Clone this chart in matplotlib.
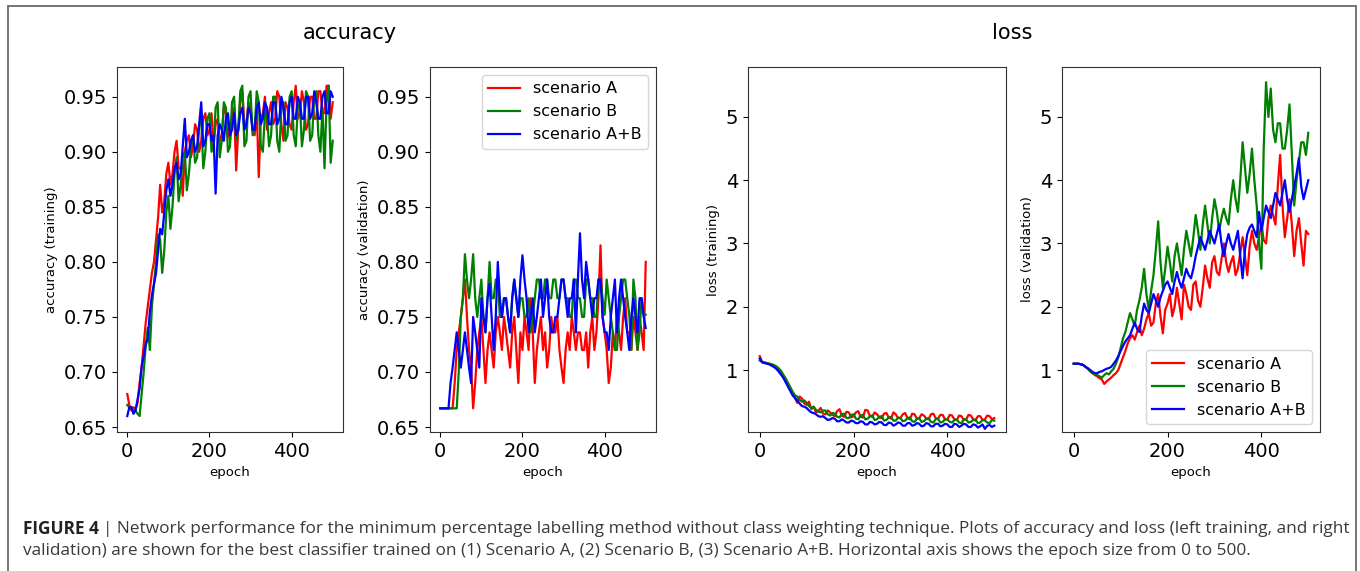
import numpy as np
import matplotlib
matplotlib.use("Agg")
import matplotlib.pyplot as plt
from matplotlib.patches import Rectangle

epochs = list(range(0, 501, 5))

acc_train_a = [0.680, 0.670, 0.665, 0.668, 0.666, 0.672, 0.690, 0.705, 0.725, 0.745,
               0.760, 0.775, 0.790, 0.800, 0.820, 0.840, 0.870, 0.845, 0.855, 0.880,
               0.890, 0.870, 0.880, 0.900, 0.910, 0.885, 0.885, 0.860, 0.900, 0.910,
               0.915, 0.895, 0.905, 0.925, 0.920, 0.900, 0.910, 0.930, 0.935, 0.915,
               0.920, 0.935, 0.905, 0.925, 0.930, 0.910, 0.915, 0.940, 0.935, 0.920,
               0.910, 0.935, 0.940, 0.883, 0.920, 0.945, 0.955, 0.925, 0.925, 0.945,
               0.940, 0.920, 0.915, 0.940, 0.877, 0.930, 0.935, 0.950, 0.920, 0.935,
               0.945, 0.925, 0.930, 0.955, 0.950, 0.925, 0.910, 0.945, 0.940, 0.925,
               0.920, 0.945, 0.960, 0.930, 0.935, 0.955, 0.945, 0.920, 0.925, 0.950,
               0.950, 0.930, 0.930, 0.955, 0.955, 0.935, 0.935, 0.960, 0.960, 0.930,
               0.945]
acc_train_b = [0.670, 0.668, 0.668, 0.664, 0.665, 0.662, 0.660, 0.680, 0.700, 0.725,
               0.740, 0.720, 0.760, 0.780, 0.800, 0.825, 0.820, 0.790, 0.810, 0.845,
               0.860, 0.830, 0.850, 0.880, 0.895, 0.855, 0.870, 0.895, 0.900, 0.865,
               0.880, 0.905, 0.915, 0.890, 0.895, 0.925, 0.930, 0.885, 0.900, 0.930,
               0.935, 0.900, 0.905, 0.940, 0.945, 0.895, 0.910, 0.945, 0.940, 0.900,
               0.905, 0.945, 0.950, 0.910, 0.920, 0.955, 0.960, 0.905, 0.910, 0.950,
               0.955, 0.915, 0.920, 0.955, 0.945, 0.905, 0.900, 0.935, 0.935, 0.905,
               0.915, 0.950, 0.950, 0.910, 0.900, 0.940, 0.945, 0.910, 0.915, 0.950,
               0.955, 0.915, 0.905, 0.940, 0.945, 0.905, 0.920, 0.955, 0.950, 0.910,
               0.915, 0.950, 0.955, 0.915, 0.900, 0.940, 0.885, 0.945, 0.960, 0.890,
               0.910]
acc_train_ab = [0.660, 0.668, 0.668, 0.662, 0.665, 0.675, 0.685, 0.705, 0.715, 0.725,
                0.730, 0.755, 0.770, 0.780, 0.790, 0.810, 0.830, 0.825, 0.845, 0.865,
                0.875, 0.860, 0.870, 0.885, 0.890, 0.875, 0.880, 0.905, 0.930, 0.895,
                0.900, 0.910, 0.915, 0.900, 0.905, 0.925, 0.945, 0.905, 0.910, 0.925,
                0.925, 0.910, 0.915, 0.862, 0.915, 0.925, 0.920, 0.910, 0.930, 0.935,
                0.915, 0.920, 0.935, 0.915, 0.920, 0.935, 0.940, 0.920, 0.925, 0.940,
                0.935, 0.920, 0.920, 0.940, 0.945, 0.925, 0.930, 0.945, 0.940, 0.925,
                0.925, 0.945, 0.945, 0.925, 0.930, 0.950, 0.940, 0.925, 0.925, 0.945,
                0.950, 0.930, 0.930, 0.950, 0.945, 0.930, 0.930, 0.950, 0.950, 0.930,
                0.935, 0.955, 0.945, 0.930, 0.930, 0.950, 0.955, 0.935, 0.935, 0.955,
                0.950]

acc_val_a = [0.667, 0.667, 0.667, 0.667, 0.667, 0.667, 0.667, 0.690, 0.720, 0.736,
             0.750, 0.767, 0.784, 0.750, 0.720, 0.704, 0.667, 0.690, 0.720, 0.736,
             0.750, 0.720, 0.690, 0.720, 0.736, 0.720, 0.704, 0.736, 0.750, 0.736,
             0.720, 0.750, 0.736, 0.720, 0.704, 0.736, 0.750, 0.720, 0.690, 0.736,
             0.720, 0.750, 0.736, 0.720, 0.767, 0.736, 0.690, 0.720, 0.736, 0.750,
             0.720, 0.736, 0.704, 0.720, 0.750, 0.736, 0.736, 0.750, 0.720, 0.704,
             0.690, 0.720, 0.736, 0.720, 0.750, 0.736, 0.720, 0.736, 0.736, 0.720,
             0.720, 0.736, 0.704, 0.736, 0.750, 0.720, 0.736, 0.767, 0.815, 0.750,
             0.736, 0.720, 0.690, 0.704, 0.736, 0.720, 0.750, 0.736, 0.720, 0.750,
             0.767, 0.736, 0.736, 0.720, 0.750, 0.736, 0.720, 0.750, 0.736, 0.720,
             0.800]
acc_val_b = [0.667, 0.667, 0.667, 0.667, 0.667, 0.667, 0.667, 0.667, 0.667, 0.700,
             0.750, 0.767, 0.807, 0.784, 0.767, 0.784, 0.807, 0.767, 0.750, 0.767,
             0.784, 0.750, 0.736, 0.767, 0.800, 0.767, 0.767, 0.784, 0.784, 0.750,
             0.750, 0.767, 0.767, 0.750, 0.736, 0.767, 0.784, 0.767, 0.750, 0.767,
             0.767, 0.750, 0.750, 0.767, 0.736, 0.750, 0.767, 0.784, 0.784, 0.767,
             0.767, 0.784, 0.784, 0.767, 0.767, 0.784, 0.784, 0.767, 0.767, 0.784,
             0.784, 0.767, 0.767, 0.750, 0.750, 0.784, 0.784, 0.767, 0.767, 0.750,
             0.750, 0.784, 0.784, 0.767, 0.767, 0.750, 0.750, 0.784, 0.784, 0.767,
             0.752, 0.784, 0.767, 0.750, 0.736, 0.720, 0.720, 0.750, 0.767, 0.784,
             0.784, 0.767, 0.752, 0.720, 0.784, 0.767, 0.720, 0.736, 0.767, 0.752,
             0.752]
acc_val_ab = [0.667, 0.667, 0.667, 0.667, 0.667, 0.690, 0.704, 0.720, 0.736, 0.720,
              0.704, 0.720, 0.736, 0.720, 0.704, 0.690, 0.750, 0.736, 0.720, 0.704,
              0.767, 0.750, 0.736, 0.767, 0.780, 0.750, 0.720, 0.750, 0.800, 0.767,
              0.750, 0.767, 0.767, 0.750, 0.736, 0.767, 0.784, 0.767, 0.750, 0.784,
              0.806, 0.784, 0.767, 0.736, 0.750, 0.767, 0.736, 0.750, 0.767, 0.784,
              0.750, 0.767, 0.784, 0.750, 0.736, 0.736, 0.750, 0.750, 0.767, 0.784,
              0.784, 0.767, 0.750, 0.767, 0.767, 0.784, 0.736, 0.784, 0.826, 0.784,
              0.767, 0.800, 0.784, 0.767, 0.750, 0.767, 0.767, 0.784, 0.784, 0.750,
              0.736, 0.736, 0.720, 0.750, 0.767, 0.784, 0.736, 0.767, 0.784, 0.767,
              0.750, 0.736, 0.720, 0.750, 0.767, 0.750, 0.736, 0.767, 0.767, 0.750,
              0.740]

loss_train_a = [1.22, 1.13, 1.12, 1.11, 1.10, 1.09, 1.07, 1.04, 1.00, 0.95,
                0.90, 0.84, 0.78, 0.70, 0.62, 0.56, 0.48, 0.58, 0.55, 0.47,
                0.45, 0.50, 0.38, 0.42, 0.33, 0.36, 0.40, 0.31, 0.30, 0.36,
                0.33, 0.29, 0.27, 0.35, 0.38, 0.28, 0.26, 0.34, 0.33, 0.25,
                0.27, 0.33, 0.35, 0.26, 0.25, 0.37, 0.36, 0.27, 0.26, 0.33,
                0.30, 0.25, 0.24, 0.31, 0.32, 0.25, 0.23, 0.33, 0.30, 0.24,
                0.24, 0.30, 0.32, 0.24, 0.22, 0.31, 0.30, 0.23, 0.24, 0.30,
                0.28, 0.23, 0.22, 0.30, 0.31, 0.24, 0.23, 0.29, 0.29, 0.22,
                0.22, 0.29, 0.28, 0.22, 0.21, 0.28, 0.27, 0.21, 0.22, 0.29,
                0.28, 0.22, 0.20, 0.27, 0.27, 0.21, 0.22, 0.28, 0.27, 0.22,
                0.24]
loss_train_b = [1.15, 1.13, 1.12, 1.11, 1.10, 1.09, 1.08, 1.06, 1.03, 0.99,
                0.93, 0.87, 0.80, 0.73, 0.66, 0.60, 0.58, 0.53, 0.50, 0.52,
                0.48, 0.43, 0.40, 0.42, 0.37, 0.34, 0.33, 0.36, 0.36, 0.30,
                0.28, 0.32, 0.31, 0.26, 0.25, 0.30, 0.31, 0.24, 0.24, 0.29,
                0.30, 0.23, 0.22, 0.28, 0.29, 0.22, 0.23, 0.27, 0.28, 0.21,
                0.22, 0.26, 0.27, 0.20, 0.21, 0.25, 0.26, 0.20, 0.20, 0.25,
                0.24, 0.19, 0.20, 0.24, 0.25, 0.19, 0.18, 0.23, 0.24, 0.18,
                0.19, 0.23, 0.24, 0.18, 0.17, 0.22, 0.23, 0.17, 0.18, 0.22,
                0.22, 0.18, 0.17, 0.21, 0.22, 0.17, 0.16, 0.22, 0.22, 0.17,
                0.18, 0.21, 0.22, 0.16, 0.17, 0.21, 0.20, 0.17, 0.16, 0.21,
                0.20]
loss_train_ab = [1.18, 1.12, 1.11, 1.10, 1.09, 1.07, 1.05, 1.02, 0.98, 0.93,
                 0.88, 0.81, 0.74, 0.67, 0.60, 0.56, 0.52, 0.47, 0.43, 0.42,
                 0.40, 0.36, 0.33, 0.32, 0.30, 0.27, 0.26, 0.27, 0.24, 0.21,
                 0.22, 0.24, 0.23, 0.19, 0.19, 0.22, 0.20, 0.17, 0.17, 0.20,
                 0.19, 0.16, 0.16, 0.19, 0.18, 0.14, 0.14, 0.18, 0.17, 0.14,
                 0.15, 0.18, 0.17, 0.13, 0.13, 0.17, 0.16, 0.12, 0.14, 0.17,
                 0.16, 0.12, 0.12, 0.16, 0.16, 0.12, 0.13, 0.16, 0.15, 0.11,
                 0.12, 0.16, 0.15, 0.11, 0.11, 0.15, 0.15, 0.11, 0.12, 0.15,
                 0.14, 0.10, 0.10, 0.15, 0.14, 0.10, 0.12, 0.15, 0.14, 0.10,
                 0.10, 0.14, 0.13, 0.09, 0.11, 0.14, 0.07, 0.12, 0.13, 0.10,
                 0.12]

loss_val_a = [1.10, 1.10, 1.10, 1.09, 1.08, 1.05, 1.02, 0.98, 0.95, 0.92,
              0.90, 0.87, 0.85, 0.78, 0.82, 0.85, 0.88, 0.92, 0.95, 1.00,
              1.10, 1.20, 1.30, 1.42, 1.50, 1.55, 1.48, 1.60, 1.70, 1.55,
              1.65, 1.80, 1.90, 1.70, 1.75, 2.05, 2.20, 1.85, 1.58, 1.95,
              2.05, 2.20, 1.85, 2.00, 2.30, 2.05, 1.80, 2.35, 2.20, 2.00,
              1.95, 2.35, 2.40, 2.10, 2.00, 2.30, 2.65, 2.45, 2.30, 2.70,
              2.80, 2.55, 2.50, 2.75, 3.00, 2.70, 2.55, 2.70, 2.80, 2.50,
              2.60, 2.85, 3.10, 2.80, 2.50, 2.95, 3.20, 3.00, 2.90, 3.10,
              3.30, 3.05, 3.00, 3.40, 3.60, 3.45, 3.30, 3.90, 4.40, 3.60,
              3.10, 3.40, 3.70, 3.30, 2.80, 3.20, 3.40, 3.00, 2.65, 3.20,
              3.15]
loss_val_b = [1.10, 1.10, 1.10, 1.09, 1.08, 1.05, 1.02, 0.98, 0.95, 0.93,
              0.92, 0.90, 0.88, 0.92, 0.95, 0.93, 0.98, 1.02, 1.10, 1.20,
              1.35, 1.50, 1.60, 1.75, 1.90, 1.80, 1.70, 1.95, 2.10, 2.30,
              2.60, 2.20, 1.95, 2.25, 2.50, 2.90, 3.35, 2.70, 2.30, 2.60,
              2.95, 2.70, 2.40, 2.80, 3.00, 2.75, 2.50, 2.90, 3.20, 3.00,
              2.80, 3.10, 3.45, 3.20, 2.90, 3.30, 3.60, 3.30, 3.00, 3.40,
              3.70, 3.50, 3.20, 3.40, 3.55, 3.40, 3.30, 3.70, 4.00, 3.70,
              3.50, 4.00, 4.60, 4.20, 3.80, 4.10, 4.50, 4.00, 3.60, 3.00,
              2.60, 4.50, 5.55, 5.00, 5.45, 4.80, 4.60, 4.90, 4.90, 4.50,
              4.50, 4.80, 5.20, 4.40, 3.60, 4.00, 4.30, 4.60, 4.60, 4.40,
              4.75]
loss_val_ab = [1.10, 1.10, 1.10, 1.09, 1.08, 1.05, 1.03, 1.00, 0.97, 0.95,
               0.95, 0.97, 0.98, 1.00, 1.02, 1.03, 1.05, 1.10, 1.15, 1.22,
               1.30, 1.38, 1.45, 1.50, 1.55, 1.65, 1.75, 1.65, 1.60, 1.85,
               2.05, 1.95, 1.90, 2.05, 2.20, 2.10, 2.00, 2.15, 2.25, 2.35,
               2.40, 2.30, 2.20, 2.40, 2.55, 2.40, 2.30, 2.45, 2.60, 2.50,
               2.45, 2.60, 2.80, 2.95, 3.10, 3.00, 2.90, 3.05, 3.20, 3.10,
               3.00, 3.15, 3.30, 3.00, 2.80, 3.00, 3.15, 3.00, 2.90, 3.05,
               3.20, 2.80, 2.45, 2.90, 3.15, 3.25, 3.30, 3.20, 3.10, 3.50,
               3.20, 3.40, 3.60, 3.50, 3.40, 3.60, 3.80, 3.70, 3.60, 3.80,
               4.00, 3.70, 3.50, 3.70, 3.90, 4.10, 4.35, 3.90, 3.70, 3.85,
               4.00]

labels = ["scenario A", "scenario B", "scenario A+B"]
colors = ["red", "green", "blue"]

caption1 = ("| Network performance for the minimum percentage labelling method without class "
            "weighting technique. Plots of accuracy and loss (left training, and right")
caption2 = ("validation) are shown for the best classifier trained on (1) Scenario A, (2) Scenario B, "
            "(3) Scenario A+B. Horizontal axis shows the epoch size from 0 to 500.")

W, H = 1360, 571
fig = plt.figure(figsize=(W / 100, H / 100), dpi=100)

# outer frame of the figure panel
fig.patches.append(Rectangle((8 / W, -0.05), 1348 / W, 1.05 - 6 / H, transform=fig.transFigure,
                             fill=False, edgecolor="#6a6a6a", linewidth=1.3))

bottom, height = 1 - 432 / H, 365 / H
ax1 = fig.add_axes([117 / W, bottom, 226 / W, height])
ax2 = fig.add_axes([430 / W, bottom, 226 / W, height])
ax3 = fig.add_axes([748 / W, bottom, 258 / W, height])
ax4 = fig.add_axes([1062 / W, bottom, 258 / W, height])

panels = [
    (ax1, [acc_train_a, acc_train_b, acc_train_ab], "accuracy (training)"),
    (ax2, [acc_val_a, acc_val_b, acc_val_ab], "accuracy (validation)"),
    (ax3, [loss_train_a, loss_train_b, loss_train_ab], "loss (training)"),
    (ax4, [loss_val_a, loss_val_b, loss_val_ab], "loss (validation)"),
]

for ax, series, ylab in panels:
    for vals, c, lab in zip(series, colors, labels):
        ax.plot(epochs, vals, color=c, lw=1.6, label=lab)
    ax.set_xlabel("epoch", fontsize=9.5)
    ax.set_ylabel(ylab, fontsize=9.5)
    ax.set_xticks([0, 200, 400])
    ax.tick_params(labelsize=14)
    for s in ax.spines.values():
        s.set_color("#333333")

ax1.set_ylim(0.6455, 0.977)
ax2.set_ylim(0.6455, 0.977)
ax1.set_yticks([0.65, 0.70, 0.75, 0.80, 0.85, 0.90, 0.95])
ax2.set_yticks([0.65, 0.70, 0.75, 0.80, 0.85, 0.90, 0.95])
ax3.set_ylim(0.02, 5.79)
ax4.set_ylim(0.02, 5.79)
ax3.set_yticks([1, 2, 3, 4, 5])
ax4.set_yticks([1, 2, 3, 4, 5])

ax2.legend(loc="upper right", fontsize=11.5)
ax4.legend(loc="lower right", fontsize=11.5)

fig.text(350 / W, 1 - 33 / H, "accuracy", ha="center", va="center", fontsize=15)
fig.text(1012 / W, 1 - 33 / H, "loss", ha="center", va="center", fontsize=15)

# caption: bold label followed by regular text, sized so line 1 spans the panel
cap_font = ["Open Sans", "DejaVu Sans"]
x0, y1, y2 = 23, 1 - 529 / H, 1 - 551 / H
t0 = fig.text(x0 / W, y1, "FIGURE 4 ", ha="left", va="center", fontsize=11,
              fontweight="bold", family=cap_font, color="#222222")
t1 = fig.text(0.5, y1, caption1, ha="left", va="center", fontsize=11,
              family=cap_font, color="#3a3a3a")
t2 = fig.text(x0 / W, y2, caption2, ha="left", va="center", fontsize=11,
              family=cap_font, color="#3a3a3a")
fig.canvas.draw()
r = fig.canvas.get_renderer()
w = t0.get_window_extent(r).width + t1.get_window_extent(r).width
size = 11 * (1347 - x0) / w
for t in (t0, t1, t2):
    t.set_fontsize(size)
fig.canvas.draw()
t1.set_x(t0.get_window_extent(r).x1 / W)

fig.savefig("out.png", dpi=100)
